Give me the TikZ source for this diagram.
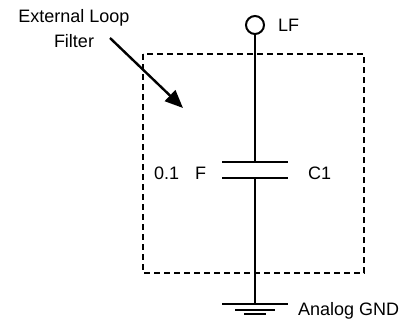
\documentclass[tikz,border=0pt]{standalone}
\usepackage{fontspec}
\setmainfont{Liberation Sans}
\usetikzlibrary{arrows.meta}
\begin{document}
\begin{tikzpicture}[x=1pt,y=-1pt,line width=2pt,
	lbl/.style={inner sep=0pt,font=\fontsize{18}{25}\selectfont}]
	\useasboundingbox (0,0) rectangle (409,324);
	\path 
	(255,162) coordinate (Ct)
	(255,178) coordinate (Cb)
	(255,304) coordinate (G)
	(110,38) coordinate (A)
	(183,108) coordinate (Ah);
	% dashed box of the filter
	\draw[line width=1.3pt,dash pattern=on 6pt off 4pt] (143,54) rectangle (364,273);
	\node[circle,draw,minimum size=18pt,inner sep=0pt] (lf) at (255,25) {};
	\node[lbl,anchor=west] (lft) at (277,25) {LF};
	\draw (lf.south)--(Ct);
	\draw (Cb)--(G);
	\foreach \p in {Ct,Cb}
	\draw ([xshift=-33pt]\p)--([xshift=33pt]\p);
	\node[lbl,anchor=west] (cap) at (153,173) {0.1\hspace{0.9em}F};
	\node[lbl,anchor=west] (c1) at (307,173) {C1};
	% ground
	\foreach \w/\d in {33/0,20/6,11/10}
	\draw ([xshift=-\w pt,yshift=-\d pt]G)--([xshift=\w pt,yshift=-\d pt]G);
	\node[lbl,anchor=west] (gnd) at (297,311) {Analog GND};
	\node[lbl,align=center] (ext) at (74,29) {External Loop\\Filter};
	\draw[line width=2.4pt,-{Triangle[length=18pt,width=15pt]}] (A)--(Ah);
\end{tikzpicture}
\end{document}
